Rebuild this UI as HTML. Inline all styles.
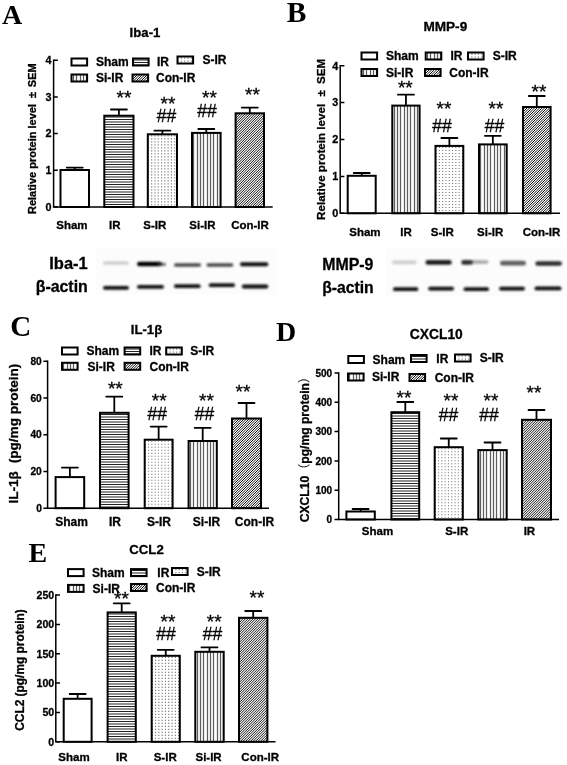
<!DOCTYPE html>
<html lang="en"><head><meta charset="utf-8"><title>Figure</title>
<style>
html,body{margin:0;padding:0;background:#fff}
body{width:567px;height:765px;overflow:hidden}
svg{display:block}
.fs{font-family:'Liberation Sans','Noto Sans CJK SC',sans-serif;stroke:#000;stroke-width:0.3px}
.fr{font-family:'Liberation Serif',serif}
</style></head><body>
<svg width="567" height="765" viewBox="0 0 567 765">
<defs>
<filter id="bl" x="-20%" y="-200%" width="140%" height="500%"><feGaussianBlur stdDeviation="1.2 0.8"/></filter>
<filter id="soft" x="0" y="0" width="100%" height="100%"><feGaussianBlur stdDeviation="0.45"/></filter>
</defs>
<rect width="567" height="765" fill="#fff"/>
<g filter="url(#soft)">
<path d="M74.75 169V167.6M66.75 167.6H82.75" stroke="#000" stroke-width="1.8" stroke-linecap="round" fill="none"/>
<rect x="60.5" y="170" width="28.5" height="37" fill="#fff"/>
<rect x="60.5" y="170" width="28.5" height="37" fill="none" stroke="#000" stroke-width="2.0"/>
<path d="M118.9 114.7V109.5M110.9 109.5H126.9" stroke="#000" stroke-width="1.8" stroke-linecap="round" fill="none"/>
<rect x="104.3" y="115.7" width="29.2" height="91.3" fill="#fff"/>
<clipPath id="c1"><rect x="104.3" y="115.7" width="29.2" height="91.3"/></clipPath>
<path clip-path="url(#c1)" d="M104.3 117H133.5M104.3 119.5H133.5M104.3 122H133.5M104.3 124.5H133.5M104.3 127H133.5M104.3 129.5H133.5M104.3 132H133.5M104.3 134.5H133.5M104.3 137H133.5M104.3 139.5H133.5M104.3 142H133.5M104.3 144.5H133.5M104.3 147H133.5M104.3 149.5H133.5M104.3 152H133.5M104.3 154.5H133.5M104.3 157H133.5M104.3 159.5H133.5M104.3 162H133.5M104.3 164.5H133.5M104.3 167H133.5M104.3 169.5H133.5M104.3 172H133.5M104.3 174.5H133.5M104.3 177H133.5M104.3 179.5H133.5M104.3 182H133.5M104.3 184.5H133.5M104.3 187H133.5M104.3 189.5H133.5M104.3 192H133.5M104.3 194.5H133.5M104.3 197H133.5M104.3 199.5H133.5M104.3 202H133.5M104.3 204.5H133.5" stroke="#222" stroke-width="1.0" fill="none"/>
<rect x="104.3" y="115.7" width="29.2" height="91.3" fill="none" stroke="#000" stroke-width="2.0"/>
<path d="M162.4 133.3V130.7M154.4 130.7H170.4" stroke="#000" stroke-width="1.8" stroke-linecap="round" fill="none"/>
<rect x="147.8" y="134.3" width="29.2" height="72.7" fill="#fff"/>
<clipPath id="c2"><rect x="147.8" y="134.3" width="29.2" height="72.7"/></clipPath>
<path clip-path="url(#c2)" d="M147.8 135.9H177M147.8 138.9H177M147.8 141.9H177M147.8 144.9H177M147.8 147.9H177M147.8 150.9H177M147.8 153.9H177M147.8 156.9H177M147.8 159.9H177M147.8 162.9H177M147.8 165.9H177M147.8 168.9H177M147.8 171.9H177M147.8 174.9H177M147.8 177.9H177M147.8 180.9H177M147.8 183.9H177M147.8 186.9H177M147.8 189.9H177M147.8 192.9H177M147.8 195.9H177M147.8 198.9H177M147.8 201.9H177M147.8 204.9H177" stroke="#7a7a7a" stroke-width="1.1" stroke-dasharray="1.1 2.2" fill="none"/>
<rect x="147.8" y="134.3" width="29.2" height="72.7" fill="none" stroke="#000" stroke-width="2.0"/>
<path d="M206.3 131.9V129M198.3 129H214.3" stroke="#000" stroke-width="1.8" stroke-linecap="round" fill="none"/>
<rect x="192" y="132.9" width="28.6" height="74.1" fill="#fff"/>
<clipPath id="c3"><rect x="192" y="132.9" width="28.6" height="74.1"/></clipPath>
<path clip-path="url(#c3)" d="M193.5 132.9V207M197.5 132.9V207M200.5 132.9V207M203.5 132.9V207M207.5 132.9V207M210.5 132.9V207M213.5 132.9V207M217.5 132.9V207M220.5 132.9V207" stroke="#5c5c5c" stroke-width="1.25" fill="none"/>
<rect x="192" y="132.9" width="28.6" height="74.1" fill="none" stroke="#000" stroke-width="2.0"/>
<path d="M249.8 112.3V107.6M241.8 107.6H257.8" stroke="#000" stroke-width="1.8" stroke-linecap="round" fill="none"/>
<rect x="235.6" y="113.3" width="28.4" height="93.7" fill="#fff"/>
<clipPath id="c4"><rect x="235.6" y="113.3" width="28.4" height="93.7"/></clipPath>
<path clip-path="url(#c4)" d="M141.9 207L235.6 113.3M144.4 207L238.1 113.3M146.9 207L240.6 113.3M149.4 207L243.1 113.3M151.9 207L245.6 113.3M154.4 207L248.1 113.3M156.9 207L250.6 113.3M159.4 207L253.1 113.3M161.9 207L255.6 113.3M164.4 207L258.1 113.3M166.9 207L260.6 113.3M169.4 207L263.1 113.3M171.9 207L265.6 113.3M174.4 207L268.1 113.3M176.9 207L270.6 113.3M179.4 207L273.1 113.3M181.91 207L275.61 113.3M184.41 207L278.11 113.3M186.91 207L280.61 113.3M189.41 207L283.11 113.3M191.91 207L285.61 113.3M194.41 207L288.11 113.3M196.91 207L290.61 113.3M199.41 207L293.11 113.3M201.91 207L295.61 113.3M204.41 207L298.11 113.3M206.91 207L300.61 113.3M209.41 207L303.11 113.3M211.91 207L305.61 113.3M214.41 207L308.11 113.3M216.91 207L310.61 113.3M219.41 207L313.11 113.3M221.91 207L315.61 113.3M224.41 207L318.11 113.3M226.91 207L320.61 113.3M229.41 207L323.11 113.3M231.91 207L325.61 113.3M234.41 207L328.11 113.3M236.91 207L330.61 113.3M239.41 207L333.11 113.3M241.91 207L335.61 113.3M244.41 207L338.11 113.3M246.91 207L340.61 113.3M249.41 207L343.11 113.3M251.91 207L345.61 113.3M254.41 207L348.11 113.3M256.92 207L350.62 113.3M259.42 207L353.12 113.3M261.92 207L355.62 113.3" stroke="#111" stroke-width="1.0" fill="none"/>
<rect x="235.6" y="113.3" width="28.4" height="93.7" fill="none" stroke="#000" stroke-width="2.0"/>
<path d="M53.6 59.45V207H272.7" stroke="#000" stroke-width="1.5" fill="none"/>
<path d="M53.6 207H57.8M53.6 170.3H57.8M53.6 133.6H57.8M53.6 96.9H57.8M53.6 60.2H57.8" stroke="#000" stroke-width="1.5"/>
<text class="fs" x="51.6" y="210.89" font-size="10.8" text-anchor="end" font-weight="bold">0</text>
<text class="fs" x="51.6" y="174.19" font-size="10.8" text-anchor="end" font-weight="bold">1</text>
<text class="fs" x="51.6" y="137.49" font-size="10.8" text-anchor="end" font-weight="bold">2</text>
<text class="fs" x="51.6" y="100.79" font-size="10.8" text-anchor="end" font-weight="bold">3</text>
<text class="fs" x="51.6" y="64.09" font-size="10.8" text-anchor="end" font-weight="bold">4</text>
<text class="fs" x="71.9" y="228.7" font-size="11.5" text-anchor="middle" font-weight="bold">Sham</text>
<text class="fs" x="114.7" y="228.7" font-size="11.5" text-anchor="middle" font-weight="bold">IR</text>
<text class="fs" x="154.8" y="228.7" font-size="11.5" text-anchor="middle" font-weight="bold">S-IR</text>
<text class="fs" x="202.4" y="228.7" font-size="11.5" text-anchor="middle" font-weight="bold">Si-IR</text>
<text class="fs" x="250" y="228.7" font-size="11.5" text-anchor="middle" font-weight="bold">Con-IR</text>
<text class="fs" x="36.3" y="138.7" font-size="11" text-anchor="middle" font-weight="bold" transform="rotate(-90 36.3 138.7)">Relative protein level<tspan dx="3.1"> &#177;</tspan><tspan dx="1.6"> SEM</tspan></text>
<text class="fs" x="145" y="36.5" font-size="13.2" text-anchor="middle" font-weight="bold">Iba-1</text>
<text class="fr" x="2" y="24" font-size="28" font-weight="bold">A</text>
<rect x="71.5" y="58.5" width="15.6" height="7" fill="#fff"/>
<rect x="71.5" y="58.5" width="15.6" height="7" fill="none" stroke="#000" stroke-width="2.0"/>
<text class="fs" x="96" y="66.32" font-size="12" font-weight="bold">Sham</text>
<rect x="133" y="58.5" width="15.6" height="7" fill="#fff"/>
<clipPath id="c5"><rect x="133" y="58.5" width="15.6" height="7"/></clipPath>
<path clip-path="url(#c5)" d="M133 60H148.6M133 62.5H148.6M133 65H148.6" stroke="#222" stroke-width="1.0" fill="none"/>
<rect x="133" y="58.5" width="15.6" height="7" fill="none" stroke="#000" stroke-width="2.0"/>
<text class="fs" x="157" y="66.32" font-size="12" font-weight="bold">IR</text>
<rect x="177.5" y="56.5" width="15.6" height="7" fill="#fff"/>
<clipPath id="c6"><rect x="177.5" y="56.5" width="15.6" height="7"/></clipPath>
<path clip-path="url(#c6)" d="M177.5 58.1H193.1M177.5 61.1H193.1" stroke="#7a7a7a" stroke-width="1.1" stroke-dasharray="1.1 2.2" fill="none"/>
<rect x="177.5" y="56.5" width="15.6" height="7" fill="none" stroke="#000" stroke-width="2.0"/>
<text class="fs" x="202.4" y="64.32" font-size="12" font-weight="bold">S-IR</text>
<rect x="71.5" y="74.5" width="15.6" height="7" fill="#fff"/>
<clipPath id="c7"><rect x="71.5" y="74.5" width="15.6" height="7"/></clipPath>
<path clip-path="url(#c7)" d="M73.5 74.5V81.5M76.5 74.5V81.5M80.5 74.5V81.5M83.5 74.5V81.5M86.5 74.5V81.5" stroke="#5c5c5c" stroke-width="1.25" fill="none"/>
<rect x="71.5" y="74.5" width="15.6" height="7" fill="none" stroke="#000" stroke-width="2.0"/>
<text class="fs" x="96" y="82.32" font-size="12" font-weight="bold">Si-IR</text>
<rect x="132.5" y="74.5" width="15.6" height="7" fill="#fff"/>
<clipPath id="c8"><rect x="132.5" y="74.5" width="15.6" height="7"/></clipPath>
<path clip-path="url(#c8)" d="M125.5 81.5L132.5 74.5M128 81.5L135 74.5M130.5 81.5L137.5 74.5M133 81.5L140 74.5M135.5 81.5L142.5 74.5M138 81.5L145 74.5M140.5 81.5L147.5 74.5M143 81.5L150 74.5M145.5 81.5L152.5 74.5M148 81.5L155 74.5" stroke="#111" stroke-width="1.0" fill="none"/>
<rect x="132.5" y="74.5" width="15.6" height="7" fill="none" stroke="#000" stroke-width="2.0"/>
<text class="fs" x="156" y="82.32" font-size="12" font-weight="bold">Con-IR</text>
<text class="fs" x="124" y="104" font-size="19" text-anchor="middle" stroke="#000" stroke-width="0.6">**</text>
<text class="fs" x="168" y="109.5" font-size="19" text-anchor="middle" stroke="#000" stroke-width="0.6">**</text>
<text class="fs" x="166.5" y="122" font-size="17.5" text-anchor="middle" stroke="#000" stroke-width="1.0">##</text>
<text class="fs" x="209.5" y="104" font-size="19" text-anchor="middle" stroke="#000" stroke-width="0.6">**</text>
<text class="fs" x="207" y="117" font-size="17.5" text-anchor="middle" stroke="#000" stroke-width="1.0">##</text>
<text class="fs" x="252.5" y="101" font-size="19" text-anchor="middle" stroke="#000" stroke-width="0.6">**</text>
<path d="M361.7 174.8V173M353.7 173H369.7" stroke="#000" stroke-width="1.8" stroke-linecap="round" fill="none"/>
<rect x="347.7" y="175.8" width="28" height="37.5" fill="#fff"/>
<rect x="347.7" y="175.8" width="28" height="37.5" fill="none" stroke="#000" stroke-width="2.0"/>
<path d="M405.95 104.6V94.7M397.95 94.7H413.95" stroke="#000" stroke-width="1.8" stroke-linecap="round" fill="none"/>
<rect x="392.3" y="105.6" width="27.3" height="107.7" fill="#fff"/>
<clipPath id="c9"><rect x="392.3" y="105.6" width="27.3" height="107.7"/></clipPath>
<path clip-path="url(#c9)" d="M394.5 105.6V213.3M397.5 105.6V213.3M400.5 105.6V213.3M404.5 105.6V213.3M407.5 105.6V213.3M410.5 105.6V213.3M414.5 105.6V213.3M417.5 105.6V213.3" stroke="#5c5c5c" stroke-width="1.25" fill="none"/>
<rect x="392.3" y="105.6" width="27.3" height="107.7" fill="none" stroke="#000" stroke-width="2.0"/>
<path d="M449.4 144.9V138M441.4 138H457.4" stroke="#000" stroke-width="1.8" stroke-linecap="round" fill="none"/>
<rect x="435.5" y="145.9" width="27.8" height="67.4" fill="#fff"/>
<clipPath id="c10"><rect x="435.5" y="145.9" width="27.8" height="67.4"/></clipPath>
<path clip-path="url(#c10)" d="M435.5 147.5H463.3M435.5 150.5H463.3M435.5 153.5H463.3M435.5 156.5H463.3M435.5 159.5H463.3M435.5 162.5H463.3M435.5 165.5H463.3M435.5 168.5H463.3M435.5 171.5H463.3M435.5 174.5H463.3M435.5 177.5H463.3M435.5 180.5H463.3M435.5 183.5H463.3M435.5 186.5H463.3M435.5 189.5H463.3M435.5 192.5H463.3M435.5 195.5H463.3M435.5 198.5H463.3M435.5 201.5H463.3M435.5 204.5H463.3M435.5 207.5H463.3M435.5 210.5H463.3" stroke="#7a7a7a" stroke-width="1.1" stroke-dasharray="1.1 2.2" fill="none"/>
<rect x="435.5" y="145.9" width="27.8" height="67.4" fill="none" stroke="#000" stroke-width="2.0"/>
<path d="M492.85 143.4V135.8M484.85 135.8H500.85" stroke="#000" stroke-width="1.8" stroke-linecap="round" fill="none"/>
<rect x="479" y="144.4" width="27.7" height="68.9" fill="#fff"/>
<clipPath id="c11"><rect x="479" y="144.4" width="27.7" height="68.9"/></clipPath>
<path clip-path="url(#c11)" d="M480.5 144.4V213.3M484.5 144.4V213.3M487.5 144.4V213.3M490.5 144.4V213.3M494.5 144.4V213.3M497.5 144.4V213.3M500.5 144.4V213.3M504.5 144.4V213.3" stroke="#5c5c5c" stroke-width="1.25" fill="none"/>
<rect x="479" y="144.4" width="27.7" height="68.9" fill="none" stroke="#000" stroke-width="2.0"/>
<path d="M536.8 106V96M528.8 96H544.8" stroke="#000" stroke-width="1.8" stroke-linecap="round" fill="none"/>
<rect x="523" y="107" width="27.6" height="106.3" fill="#fff"/>
<clipPath id="c12"><rect x="523" y="107" width="27.6" height="106.3"/></clipPath>
<path clip-path="url(#c12)" d="M416.7 213.3L523 107M419.2 213.3L525.5 107M421.7 213.3L528 107M424.2 213.3L530.5 107M426.7 213.3L533 107M429.2 213.3L535.5 107M431.7 213.3L538 107M434.2 213.3L540.5 107M436.7 213.3L543 107M439.2 213.3L545.5 107M441.7 213.3L548 107M444.2 213.3L550.5 107M446.7 213.3L553 107M449.2 213.3L555.5 107M451.7 213.3L558 107M454.2 213.3L560.5 107M456.71 213.3L563.01 107M459.21 213.3L565.51 107M461.71 213.3L568.01 107M464.21 213.3L570.51 107M466.71 213.3L573.01 107M469.21 213.3L575.51 107M471.71 213.3L578.01 107M474.21 213.3L580.51 107M476.71 213.3L583.01 107M479.21 213.3L585.51 107M481.71 213.3L588.01 107M484.21 213.3L590.51 107M486.71 213.3L593.01 107M489.21 213.3L595.51 107M491.71 213.3L598.01 107M494.21 213.3L600.51 107M496.71 213.3L603.01 107M499.21 213.3L605.51 107M501.71 213.3L608.01 107M504.21 213.3L610.51 107M506.71 213.3L613.01 107M509.21 213.3L615.51 107M511.71 213.3L618.01 107M514.21 213.3L620.51 107M516.71 213.3L623.01 107M519.21 213.3L625.51 107M521.71 213.3L628.01 107M524.21 213.3L630.51 107M526.71 213.3L633.01 107M529.21 213.3L635.51 107M531.72 213.3L638.02 107M534.22 213.3L640.52 107M536.72 213.3L643.02 107M539.22 213.3L645.52 107M541.72 213.3L648.02 107M544.22 213.3L650.52 107M546.72 213.3L653.02 107M549.22 213.3L655.52 107" stroke="#111" stroke-width="1.0" fill="none"/>
<rect x="523" y="107" width="27.6" height="106.3" fill="none" stroke="#000" stroke-width="2.0"/>
<path d="M340.2 64.95V213.3H560" stroke="#000" stroke-width="1.5" fill="none"/>
<path d="M340.2 213.3H344.4M340.2 176.4H344.4M340.2 139.5H344.4M340.2 102.6H344.4M340.2 65.7H344.4" stroke="#000" stroke-width="1.5"/>
<text class="fs" x="338.2" y="217.19" font-size="10.8" text-anchor="end" font-weight="bold">0</text>
<text class="fs" x="338.2" y="180.29" font-size="10.8" text-anchor="end" font-weight="bold">1</text>
<text class="fs" x="338.2" y="143.39" font-size="10.8" text-anchor="end" font-weight="bold">2</text>
<text class="fs" x="338.2" y="106.49" font-size="10.8" text-anchor="end" font-weight="bold">3</text>
<text class="fs" x="338.2" y="69.59" font-size="10.8" text-anchor="end" font-weight="bold">4</text>
<text class="fs" x="364.9" y="236.3" font-size="11.5" text-anchor="middle" font-weight="bold">Sham</text>
<text class="fs" x="406" y="236.3" font-size="11.5" text-anchor="middle" font-weight="bold">IR</text>
<text class="fs" x="442.3" y="236.3" font-size="11.5" text-anchor="middle" font-weight="bold">S-IR</text>
<text class="fs" x="490.2" y="236.3" font-size="11.5" text-anchor="middle" font-weight="bold">Si-IR</text>
<text class="fs" x="541.5" y="236.3" font-size="11.5" text-anchor="middle" font-weight="bold">Con-IR</text>
<text class="fs" x="325.2" y="139.4" font-size="11.6" text-anchor="middle" font-weight="bold" transform="rotate(-90 325.2 139.4)">Relative protein level<tspan dx="4.2"> &#177;</tspan><tspan dx="2.8"> SEM</tspan></text>
<text class="fs" x="445.3" y="31" font-size="13.6" text-anchor="middle" font-weight="bold">MMP-9</text>
<text class="fr" x="286.8" y="21.8" font-size="29.5" font-weight="bold">B</text>
<rect x="361.5" y="52.5" width="15.6" height="7" fill="#fff"/>
<rect x="361.5" y="52.5" width="15.6" height="7" fill="none" stroke="#000" stroke-width="2.0"/>
<text class="fs" x="386" y="60.32" font-size="12" font-weight="bold">Sham</text>
<rect x="425.7" y="52.5" width="15.6" height="7" fill="#fff"/>
<clipPath id="c13"><rect x="425.7" y="52.5" width="15.6" height="7"/></clipPath>
<path clip-path="url(#c13)" d="M427.5 52.5V59.5M430.5 52.5V59.5M434.5 52.5V59.5M437.5 52.5V59.5M440.5 52.5V59.5" stroke="#5c5c5c" stroke-width="1.25" fill="none"/>
<rect x="425.7" y="52.5" width="15.6" height="7" fill="none" stroke="#000" stroke-width="2.0"/>
<text class="fs" x="450.4" y="60.32" font-size="12" font-weight="bold">IR</text>
<rect x="468" y="52.5" width="15.6" height="7" fill="#fff"/>
<clipPath id="c14"><rect x="468" y="52.5" width="15.6" height="7"/></clipPath>
<path clip-path="url(#c14)" d="M468 54.1H483.6M468 57.1H483.6" stroke="#7a7a7a" stroke-width="1.1" stroke-dasharray="1.1 2.2" fill="none"/>
<rect x="468" y="52.5" width="15.6" height="7" fill="none" stroke="#000" stroke-width="2.0"/>
<text class="fs" x="492.7" y="60.32" font-size="12" font-weight="bold">S-IR</text>
<rect x="361.5" y="69" width="15.6" height="7" fill="#fff"/>
<clipPath id="c15"><rect x="361.5" y="69" width="15.6" height="7"/></clipPath>
<path clip-path="url(#c15)" d="M363.5 69V76M366.5 69V76M370.5 69V76M373.5 69V76M376.5 69V76" stroke="#5c5c5c" stroke-width="1.25" fill="none"/>
<rect x="361.5" y="69" width="15.6" height="7" fill="none" stroke="#000" stroke-width="2.0"/>
<text class="fs" x="386" y="76.82" font-size="12" font-weight="bold">Si-IR</text>
<rect x="425" y="69" width="15.6" height="7" fill="#fff"/>
<clipPath id="c16"><rect x="425" y="69" width="15.6" height="7"/></clipPath>
<path clip-path="url(#c16)" d="M418 76L425 69M420.5 76L427.5 69M423 76L430 69M425.5 76L432.5 69M428 76L435 69M430.5 76L437.5 69M433 76L440 69M435.5 76L442.5 69M438 76L445 69M440.5 76L447.5 69" stroke="#111" stroke-width="1.0" fill="none"/>
<rect x="425" y="69" width="15.6" height="7" fill="none" stroke="#000" stroke-width="2.0"/>
<text class="fs" x="449.3" y="76.82" font-size="12" font-weight="bold">Con-IR</text>
<text class="fs" x="405.3" y="93.5" font-size="19" text-anchor="middle" stroke="#000" stroke-width="0.6">**</text>
<text class="fs" x="444" y="115" font-size="19" text-anchor="middle" stroke="#000" stroke-width="0.6">**</text>
<text class="fs" x="442" y="132" font-size="17.5" text-anchor="middle" stroke="#000" stroke-width="1.0">##</text>
<text class="fs" x="496" y="115" font-size="19" text-anchor="middle" stroke="#000" stroke-width="0.6">**</text>
<text class="fs" x="494.5" y="132" font-size="17.5" text-anchor="middle" stroke="#000" stroke-width="1.0">##</text>
<text class="fs" x="539" y="98" font-size="19" text-anchor="middle" stroke="#000" stroke-width="0.6">**</text>
<path d="M69.9 476.1V467.6M61.9 467.6H77.9" stroke="#000" stroke-width="1.8" stroke-linecap="round" fill="none"/>
<rect x="55.6" y="477.1" width="28.6" height="31.1" fill="#fff"/>
<rect x="55.6" y="477.1" width="28.6" height="31.1" fill="none" stroke="#000" stroke-width="2.0"/>
<path d="M114.3 411.8V396.7M106.3 396.7H122.3" stroke="#000" stroke-width="1.8" stroke-linecap="round" fill="none"/>
<rect x="100" y="412.8" width="28.6" height="95.4" fill="#fff"/>
<clipPath id="c17"><rect x="100" y="412.8" width="28.6" height="95.4"/></clipPath>
<path clip-path="url(#c17)" d="M100 414.5H128.6M100 417H128.6M100 419.5H128.6M100 422H128.6M100 424.5H128.6M100 427H128.6M100 429.5H128.6M100 432H128.6M100 434.5H128.6M100 437H128.6M100 439.5H128.6M100 442H128.6M100 444.5H128.6M100 447H128.6M100 449.5H128.6M100 452H128.6M100 454.5H128.6M100 457H128.6M100 459.5H128.6M100 462H128.6M100 464.5H128.6M100 467H128.6M100 469.5H128.6M100 472H128.6M100 474.5H128.6M100 477H128.6M100 479.5H128.6M100 482H128.6M100 484.5H128.6M100 487H128.6M100 489.5H128.6M100 492H128.6M100 494.5H128.6M100 497H128.6M100 499.5H128.6M100 502H128.6M100 504.5H128.6M100 507H128.6" stroke="#222" stroke-width="1.0" fill="none"/>
<rect x="100" y="412.8" width="28.6" height="95.4" fill="none" stroke="#000" stroke-width="2.0"/>
<path d="M158.65 438.7V426.6M150.65 426.6H166.65" stroke="#000" stroke-width="1.8" stroke-linecap="round" fill="none"/>
<rect x="144.7" y="439.7" width="27.9" height="68.5" fill="#fff"/>
<clipPath id="c18"><rect x="144.7" y="439.7" width="27.9" height="68.5"/></clipPath>
<path clip-path="url(#c18)" d="M144.7 441.3H172.6M144.7 444.3H172.6M144.7 447.3H172.6M144.7 450.3H172.6M144.7 453.3H172.6M144.7 456.3H172.6M144.7 459.3H172.6M144.7 462.3H172.6M144.7 465.3H172.6M144.7 468.3H172.6M144.7 471.3H172.6M144.7 474.3H172.6M144.7 477.3H172.6M144.7 480.3H172.6M144.7 483.3H172.6M144.7 486.3H172.6M144.7 489.3H172.6M144.7 492.3H172.6M144.7 495.3H172.6M144.7 498.3H172.6M144.7 501.3H172.6M144.7 504.3H172.6M144.7 507.3H172.6" stroke="#7a7a7a" stroke-width="1.1" stroke-dasharray="1.1 2.2" fill="none"/>
<rect x="144.7" y="439.7" width="27.9" height="68.5" fill="none" stroke="#000" stroke-width="2.0"/>
<path d="M202.7 440V427.9M194.7 427.9H210.7" stroke="#000" stroke-width="1.8" stroke-linecap="round" fill="none"/>
<rect x="188.6" y="441" width="28.2" height="67.2" fill="#fff"/>
<clipPath id="c19"><rect x="188.6" y="441" width="28.2" height="67.2"/></clipPath>
<path clip-path="url(#c19)" d="M190.5 441V508.2M193.5 441V508.2M197.5 441V508.2M200.5 441V508.2M203.5 441V508.2M207.5 441V508.2M210.5 441V508.2M213.5 441V508.2" stroke="#5c5c5c" stroke-width="1.25" fill="none"/>
<rect x="188.6" y="441" width="28.2" height="67.2" fill="none" stroke="#000" stroke-width="2.0"/>
<path d="M246.5 417.5V403M238.5 403H254.5" stroke="#000" stroke-width="1.8" stroke-linecap="round" fill="none"/>
<rect x="232" y="418.5" width="29" height="89.7" fill="#fff"/>
<clipPath id="c20"><rect x="232" y="418.5" width="29" height="89.7"/></clipPath>
<path clip-path="url(#c20)" d="M142.3 508.2L232 418.5M144.8 508.2L234.5 418.5M147.3 508.2L237 418.5M149.8 508.2L239.5 418.5M152.3 508.2L242 418.5M154.8 508.2L244.5 418.5M157.3 508.2L247 418.5M159.8 508.2L249.5 418.5M162.3 508.2L252 418.5M164.8 508.2L254.5 418.5M167.3 508.2L257 418.5M169.8 508.2L259.5 418.5M172.3 508.2L262 418.5M174.8 508.2L264.5 418.5M177.3 508.2L267 418.5M179.8 508.2L269.5 418.5M182.31 508.2L272.01 418.5M184.81 508.2L274.51 418.5M187.31 508.2L277.01 418.5M189.81 508.2L279.51 418.5M192.31 508.2L282.01 418.5M194.81 508.2L284.51 418.5M197.31 508.2L287.01 418.5M199.81 508.2L289.51 418.5M202.31 508.2L292.01 418.5M204.81 508.2L294.51 418.5M207.31 508.2L297.01 418.5M209.81 508.2L299.51 418.5M212.31 508.2L302.01 418.5M214.81 508.2L304.51 418.5M217.31 508.2L307.01 418.5M219.81 508.2L309.51 418.5M222.31 508.2L312.01 418.5M224.81 508.2L314.51 418.5M227.31 508.2L317.01 418.5M229.81 508.2L319.51 418.5M232.31 508.2L322.01 418.5M234.81 508.2L324.51 418.5M237.31 508.2L327.01 418.5M239.81 508.2L329.51 418.5M242.31 508.2L332.01 418.5M244.81 508.2L334.51 418.5M247.31 508.2L337.01 418.5M249.81 508.2L339.51 418.5M252.31 508.2L342.01 418.5M254.81 508.2L344.51 418.5M257.32 508.2L347.02 418.5M259.82 508.2L349.52 418.5" stroke="#111" stroke-width="1.0" fill="none"/>
<rect x="232" y="418.5" width="29" height="89.7" fill="none" stroke="#000" stroke-width="2.0"/>
<path d="M47.6 360.45V508.2H269" stroke="#000" stroke-width="1.5" fill="none"/>
<path d="M47.6 508.2H43.4M47.6 471.45H43.4M47.6 434.7H43.4M47.6 397.95H43.4M47.6 361.2H43.4" stroke="#000" stroke-width="1.5"/>
<text class="fs" x="41.8" y="511.87" font-size="10.2" text-anchor="end" font-weight="bold">0</text>
<text class="fs" x="41.8" y="475.12" font-size="10.2" text-anchor="end" font-weight="bold">20</text>
<text class="fs" x="41.8" y="438.37" font-size="10.2" text-anchor="end" font-weight="bold">40</text>
<text class="fs" x="41.8" y="401.62" font-size="10.2" text-anchor="end" font-weight="bold">60</text>
<text class="fs" x="41.8" y="364.87" font-size="10.2" text-anchor="end" font-weight="bold">80</text>
<text class="fs" x="71.5" y="525.6" font-size="12" text-anchor="middle" font-weight="bold">Sham</text>
<text class="fs" x="115" y="525.6" font-size="12" text-anchor="middle" font-weight="bold">IR</text>
<text class="fs" x="159" y="525.6" font-size="12" text-anchor="middle" font-weight="bold">S-IR</text>
<text class="fs" x="206.5" y="525.6" font-size="12" text-anchor="middle" font-weight="bold">Si-IR</text>
<text class="fs" x="254.5" y="525.6" font-size="12" text-anchor="middle" font-weight="bold">Con-IR</text>
<text class="fs" x="18.2" y="433.6" font-size="13.6" text-anchor="middle" font-weight="bold" transform="rotate(-90 18.2 433.6)">IL-1&#946;<tspan dx="4"> (pg/mg protein)</tspan></text>
<text class="fs" x="146.5" y="334" font-size="13.2" text-anchor="middle" font-weight="bold">IL-1&#946;</text>
<text class="fr" x="10.3" y="335.6" font-size="29" font-weight="bold">C</text>
<rect x="62" y="347.5" width="15.6" height="7" fill="#fff"/>
<rect x="62" y="347.5" width="15.6" height="7" fill="none" stroke="#000" stroke-width="2.0"/>
<text class="fs" x="86.5" y="355.32" font-size="12" font-weight="bold">Sham</text>
<rect x="124.6" y="347.5" width="15.6" height="7" fill="#fff"/>
<clipPath id="c21"><rect x="124.6" y="347.5" width="15.6" height="7"/></clipPath>
<path clip-path="url(#c21)" d="M124.6 349H140.2M124.6 351.5H140.2M124.6 354H140.2" stroke="#222" stroke-width="1.0" fill="none"/>
<rect x="124.6" y="347.5" width="15.6" height="7" fill="none" stroke="#000" stroke-width="2.0"/>
<text class="fs" x="149.5" y="355.32" font-size="12" font-weight="bold">IR</text>
<rect x="166.2" y="347.5" width="15.6" height="7" fill="#fff"/>
<clipPath id="c22"><rect x="166.2" y="347.5" width="15.6" height="7"/></clipPath>
<path clip-path="url(#c22)" d="M166.2 349.1H181.8M166.2 352.1H181.8" stroke="#7a7a7a" stroke-width="1.1" stroke-dasharray="1.1 2.2" fill="none"/>
<rect x="166.2" y="347.5" width="15.6" height="7" fill="none" stroke="#000" stroke-width="2.0"/>
<text class="fs" x="190.2" y="355.32" font-size="12" font-weight="bold">S-IR</text>
<rect x="62" y="362.8" width="15.6" height="7" fill="#fff"/>
<clipPath id="c23"><rect x="62" y="362.8" width="15.6" height="7"/></clipPath>
<path clip-path="url(#c23)" d="M63.5 362.8V369.8M67.5 362.8V369.8M70.5 362.8V369.8M73.5 362.8V369.8M77.5 362.8V369.8" stroke="#5c5c5c" stroke-width="1.25" fill="none"/>
<rect x="62" y="362.8" width="15.6" height="7" fill="none" stroke="#000" stroke-width="2.0"/>
<text class="fs" x="87.5" y="370.62" font-size="12" font-weight="bold">Si-IR</text>
<rect x="124.6" y="362.8" width="15.6" height="7" fill="#fff"/>
<clipPath id="c24"><rect x="124.6" y="362.8" width="15.6" height="7"/></clipPath>
<path clip-path="url(#c24)" d="M117.6 369.8L124.6 362.8M120.1 369.8L127.1 362.8M122.6 369.8L129.6 362.8M125.1 369.8L132.1 362.8M127.6 369.8L134.6 362.8M130.1 369.8L137.1 362.8M132.6 369.8L139.6 362.8M135.1 369.8L142.1 362.8M137.6 369.8L144.6 362.8M140.1 369.8L147.1 362.8" stroke="#111" stroke-width="1.0" fill="none"/>
<rect x="124.6" y="362.8" width="15.6" height="7" fill="none" stroke="#000" stroke-width="2.0"/>
<text class="fs" x="149.5" y="370.62" font-size="12" font-weight="bold">Con-IR</text>
<text class="fs" x="115.3" y="395" font-size="19" text-anchor="middle" stroke="#000" stroke-width="0.6">**</text>
<text class="fs" x="159.2" y="407" font-size="19" text-anchor="middle" stroke="#000" stroke-width="0.6">**</text>
<text class="fs" x="157.3" y="420" font-size="17.5" text-anchor="middle" stroke="#000" stroke-width="1.0">##</text>
<text class="fs" x="206.5" y="407" font-size="19" text-anchor="middle" stroke="#000" stroke-width="0.6">**</text>
<text class="fs" x="204.6" y="420" font-size="17.5" text-anchor="middle" stroke="#000" stroke-width="1.0">##</text>
<text class="fs" x="243" y="398" font-size="19" text-anchor="middle" stroke="#000" stroke-width="0.6">**</text>
<path d="M360.6 510.5V509M352.6 509H368.6" stroke="#000" stroke-width="1.8" stroke-linecap="round" fill="none"/>
<rect x="346.4" y="511.5" width="28.4" height="8" fill="#fff"/>
<rect x="346.4" y="511.5" width="28.4" height="8" fill="none" stroke="#000" stroke-width="2.0"/>
<path d="M405.3 411.2V402M397.3 402H413.3" stroke="#000" stroke-width="1.8" stroke-linecap="round" fill="none"/>
<rect x="391.4" y="412.2" width="27.8" height="107.3" fill="#fff"/>
<clipPath id="c25"><rect x="391.4" y="412.2" width="27.8" height="107.3"/></clipPath>
<path clip-path="url(#c25)" d="M391.4 413.5H419.2M391.4 416H419.2M391.4 418.5H419.2M391.4 421H419.2M391.4 423.5H419.2M391.4 426H419.2M391.4 428.5H419.2M391.4 431H419.2M391.4 433.5H419.2M391.4 436H419.2M391.4 438.5H419.2M391.4 441H419.2M391.4 443.5H419.2M391.4 446H419.2M391.4 448.5H419.2M391.4 451H419.2M391.4 453.5H419.2M391.4 456H419.2M391.4 458.5H419.2M391.4 461H419.2M391.4 463.5H419.2M391.4 466H419.2M391.4 468.5H419.2M391.4 471H419.2M391.4 473.5H419.2M391.4 476H419.2M391.4 478.5H419.2M391.4 481H419.2M391.4 483.5H419.2M391.4 486H419.2M391.4 488.5H419.2M391.4 491H419.2M391.4 493.5H419.2M391.4 496H419.2M391.4 498.5H419.2M391.4 501H419.2M391.4 503.5H419.2M391.4 506H419.2M391.4 508.5H419.2M391.4 511H419.2M391.4 513.5H419.2M391.4 516H419.2M391.4 518.5H419.2" stroke="#222" stroke-width="1.0" fill="none"/>
<rect x="391.4" y="412.2" width="27.8" height="107.3" fill="none" stroke="#000" stroke-width="2.0"/>
<path d="M448.75 446.2V438.5M440.75 438.5H456.75" stroke="#000" stroke-width="1.8" stroke-linecap="round" fill="none"/>
<rect x="434.7" y="447.2" width="28.1" height="72.3" fill="#fff"/>
<clipPath id="c26"><rect x="434.7" y="447.2" width="28.1" height="72.3"/></clipPath>
<path clip-path="url(#c26)" d="M434.7 448.8H462.8M434.7 451.8H462.8M434.7 454.8H462.8M434.7 457.8H462.8M434.7 460.8H462.8M434.7 463.8H462.8M434.7 466.8H462.8M434.7 469.8H462.8M434.7 472.8H462.8M434.7 475.8H462.8M434.7 478.8H462.8M434.7 481.8H462.8M434.7 484.8H462.8M434.7 487.8H462.8M434.7 490.8H462.8M434.7 493.8H462.8M434.7 496.8H462.8M434.7 499.8H462.8M434.7 502.8H462.8M434.7 505.8H462.8M434.7 508.8H462.8M434.7 511.8H462.8M434.7 514.8H462.8M434.7 517.8H462.8" stroke="#7a7a7a" stroke-width="1.1" stroke-dasharray="1.1 2.2" fill="none"/>
<rect x="434.7" y="447.2" width="28.1" height="72.3" fill="none" stroke="#000" stroke-width="2.0"/>
<path d="M492.5 449.1V442.5M484.5 442.5H500.5" stroke="#000" stroke-width="1.8" stroke-linecap="round" fill="none"/>
<rect x="478.3" y="450.1" width="28.4" height="69.4" fill="#fff"/>
<clipPath id="c27"><rect x="478.3" y="450.1" width="28.4" height="69.4"/></clipPath>
<path clip-path="url(#c27)" d="M480.5 450.1V519.5M483.5 450.1V519.5M486.5 450.1V519.5M490.5 450.1V519.5M493.5 450.1V519.5M496.5 450.1V519.5M500.5 450.1V519.5M503.5 450.1V519.5M506.5 450.1V519.5" stroke="#5c5c5c" stroke-width="1.25" fill="none"/>
<rect x="478.3" y="450.1" width="28.4" height="69.4" fill="none" stroke="#000" stroke-width="2.0"/>
<path d="M536.5 418.8V410M528.5 410H544.5" stroke="#000" stroke-width="1.8" stroke-linecap="round" fill="none"/>
<rect x="522" y="419.8" width="29" height="99.7" fill="#fff"/>
<clipPath id="c28"><rect x="522" y="419.8" width="29" height="99.7"/></clipPath>
<path clip-path="url(#c28)" d="M422.3 519.5L522 419.8M424.8 519.5L524.5 419.8M427.3 519.5L527 419.8M429.8 519.5L529.5 419.8M432.3 519.5L532 419.8M434.8 519.5L534.5 419.8M437.3 519.5L537 419.8M439.8 519.5L539.5 419.8M442.3 519.5L542 419.8M444.8 519.5L544.5 419.8M447.3 519.5L547 419.8M449.8 519.5L549.5 419.8M452.3 519.5L552 419.8M454.8 519.5L554.5 419.8M457.3 519.5L557 419.8M459.8 519.5L559.5 419.8M462.31 519.5L562.01 419.8M464.81 519.5L564.51 419.8M467.31 519.5L567.01 419.8M469.81 519.5L569.51 419.8M472.31 519.5L572.01 419.8M474.81 519.5L574.51 419.8M477.31 519.5L577.01 419.8M479.81 519.5L579.51 419.8M482.31 519.5L582.01 419.8M484.81 519.5L584.51 419.8M487.31 519.5L587.01 419.8M489.81 519.5L589.51 419.8M492.31 519.5L592.01 419.8M494.81 519.5L594.51 419.8M497.31 519.5L597.01 419.8M499.81 519.5L599.51 419.8M502.31 519.5L602.01 419.8M504.81 519.5L604.51 419.8M507.31 519.5L607.01 419.8M509.81 519.5L609.51 419.8M512.31 519.5L612.01 419.8M514.81 519.5L614.51 419.8M517.31 519.5L617.01 419.8M519.81 519.5L619.51 419.8M522.31 519.5L622.01 419.8M524.81 519.5L624.51 419.8M527.31 519.5L627.01 419.8M529.81 519.5L629.51 419.8M532.31 519.5L632.01 419.8M534.81 519.5L634.51 419.8M537.32 519.5L637.02 419.8M539.82 519.5L639.52 419.8M542.32 519.5L642.02 419.8M544.82 519.5L644.52 419.8M547.32 519.5L647.02 419.8M549.82 519.5L649.52 419.8" stroke="#111" stroke-width="1.0" fill="none"/>
<rect x="522" y="419.8" width="29" height="99.7" fill="none" stroke="#000" stroke-width="2.0"/>
<path d="M338.7 372.25V519.5H559" stroke="#000" stroke-width="1.5" fill="none"/>
<path d="M338.7 519.5H334.5M338.7 490.2H334.5M338.7 460.9H334.5M338.7 431.6H334.5M338.7 402.3H334.5M338.7 373H334.5" stroke="#000" stroke-width="1.5"/>
<text class="fs" x="332.1" y="523.1" font-size="10.0" text-anchor="end" font-weight="bold">0</text>
<text class="fs" x="332.1" y="493.8" font-size="10.0" text-anchor="end" font-weight="bold">100</text>
<text class="fs" x="332.1" y="464.5" font-size="10.0" text-anchor="end" font-weight="bold">200</text>
<text class="fs" x="332.1" y="435.2" font-size="10.0" text-anchor="end" font-weight="bold">300</text>
<text class="fs" x="332.1" y="405.9" font-size="10.0" text-anchor="end" font-weight="bold">400</text>
<text class="fs" x="332.1" y="376.6" font-size="10.0" text-anchor="end" font-weight="bold">500</text>
<text class="fs" x="377.5" y="535.2" font-size="11.5" text-anchor="middle" font-weight="bold">Sham</text>
<text class="fs" x="456.7" y="535.2" font-size="11.5" text-anchor="middle" font-weight="bold">S-IR</text>
<text class="fs" x="529.4" y="535.2" font-size="11.5" text-anchor="middle" font-weight="bold">IR</text>
<text class="fs" x="309.2" y="446.6" font-size="12.1" text-anchor="middle" font-weight="bold" transform="rotate(-90 309.2 446.6)">CXCL10<tspan font-weight="normal" stroke="none">&#65288;</tspan>pg/mg protein<tspan font-weight="normal" stroke="none">&#65289;</tspan></text>
<text class="fs" x="436.3" y="338.8" font-size="13.8" text-anchor="middle" font-weight="bold">CXCL10</text>
<text class="fr" x="276" y="340.6" font-size="28" font-weight="bold">D</text>
<rect x="348.3" y="356" width="15.6" height="7" fill="#fff"/>
<rect x="348.3" y="356" width="15.6" height="7" fill="none" stroke="#000" stroke-width="2.0"/>
<text class="fs" x="372.6" y="363.82" font-size="12" font-weight="bold">Sham</text>
<rect x="411" y="355" width="15.6" height="7" fill="#fff"/>
<clipPath id="c29"><rect x="411" y="355" width="15.6" height="7"/></clipPath>
<path clip-path="url(#c29)" d="M411 356.5H426.6M411 359H426.6M411 361.5H426.6" stroke="#222" stroke-width="1.0" fill="none"/>
<rect x="411" y="355" width="15.6" height="7" fill="none" stroke="#000" stroke-width="2.0"/>
<text class="fs" x="436.3" y="362.82" font-size="12" font-weight="bold">IR</text>
<rect x="455" y="354.5" width="15.6" height="7" fill="#fff"/>
<clipPath id="c30"><rect x="455" y="354.5" width="15.6" height="7"/></clipPath>
<path clip-path="url(#c30)" d="M455 356.1H470.6M455 359.1H470.6" stroke="#7a7a7a" stroke-width="1.1" stroke-dasharray="1.1 2.2" fill="none"/>
<rect x="455" y="354.5" width="15.6" height="7" fill="none" stroke="#000" stroke-width="2.0"/>
<text class="fs" x="479.7" y="362.32" font-size="12" font-weight="bold">S-IR</text>
<rect x="348" y="373.5" width="15.6" height="7" fill="#fff"/>
<clipPath id="c31"><rect x="348" y="373.5" width="15.6" height="7"/></clipPath>
<path clip-path="url(#c31)" d="M349.5 373.5V380.5M353.5 373.5V380.5M356.5 373.5V380.5M359.5 373.5V380.5M363.5 373.5V380.5" stroke="#5c5c5c" stroke-width="1.25" fill="none"/>
<rect x="348" y="373.5" width="15.6" height="7" fill="none" stroke="#000" stroke-width="2.0"/>
<text class="fs" x="372" y="381.32" font-size="12" font-weight="bold">Si-IR</text>
<rect x="409.5" y="374" width="15.6" height="7" fill="#fff"/>
<clipPath id="c32"><rect x="409.5" y="374" width="15.6" height="7"/></clipPath>
<path clip-path="url(#c32)" d="M402.5 381L409.5 374M405 381L412 374M407.5 381L414.5 374M410 381L417 374M412.5 381L419.5 374M415 381L422 374M417.5 381L424.5 374M420 381L427 374M422.5 381L429.5 374M425 381L432 374" stroke="#111" stroke-width="1.0" fill="none"/>
<rect x="409.5" y="374" width="15.6" height="7" fill="none" stroke="#000" stroke-width="2.0"/>
<text class="fs" x="434.7" y="381.82" font-size="12" font-weight="bold">Con-IR</text>
<text class="fs" x="404" y="403.5" font-size="19" text-anchor="middle" stroke="#000" stroke-width="0.6">**</text>
<text class="fs" x="451" y="406.5" font-size="19" text-anchor="middle" stroke="#000" stroke-width="0.6">**</text>
<text class="fs" x="448.5" y="420.5" font-size="17.5" text-anchor="middle" stroke="#000" stroke-width="1.0">##</text>
<text class="fs" x="491" y="406.5" font-size="19" text-anchor="middle" stroke="#000" stroke-width="0.6">**</text>
<text class="fs" x="489" y="420.5" font-size="17.5" text-anchor="middle" stroke="#000" stroke-width="1.0">##</text>
<text class="fs" x="534" y="398.5" font-size="19" text-anchor="middle" stroke="#000" stroke-width="0.6">**</text>
<path d="M77.65 697.8V694M69.65 694H85.65" stroke="#000" stroke-width="1.8" stroke-linecap="round" fill="none"/>
<rect x="63.7" y="698.8" width="27.9" height="43" fill="#fff"/>
<rect x="63.7" y="698.8" width="27.9" height="43" fill="none" stroke="#000" stroke-width="2.0"/>
<path d="M121.7 611.4V603.3M113.7 603.3H129.7" stroke="#000" stroke-width="1.8" stroke-linecap="round" fill="none"/>
<rect x="107.6" y="612.4" width="28.2" height="129.4" fill="#fff"/>
<clipPath id="c33"><rect x="107.6" y="612.4" width="28.2" height="129.4"/></clipPath>
<path clip-path="url(#c33)" d="M107.6 614H135.8M107.6 616.5H135.8M107.6 619H135.8M107.6 621.5H135.8M107.6 624H135.8M107.6 626.5H135.8M107.6 629H135.8M107.6 631.5H135.8M107.6 634H135.8M107.6 636.5H135.8M107.6 639H135.8M107.6 641.5H135.8M107.6 644H135.8M107.6 646.5H135.8M107.6 649H135.8M107.6 651.5H135.8M107.6 654H135.8M107.6 656.5H135.8M107.6 659H135.8M107.6 661.5H135.8M107.6 664H135.8M107.6 666.5H135.8M107.6 669H135.8M107.6 671.5H135.8M107.6 674H135.8M107.6 676.5H135.8M107.6 679H135.8M107.6 681.5H135.8M107.6 684H135.8M107.6 686.5H135.8M107.6 689H135.8M107.6 691.5H135.8M107.6 694H135.8M107.6 696.5H135.8M107.6 699H135.8M107.6 701.5H135.8M107.6 704H135.8M107.6 706.5H135.8M107.6 709H135.8M107.6 711.5H135.8M107.6 714H135.8M107.6 716.5H135.8M107.6 719H135.8M107.6 721.5H135.8M107.6 724H135.8M107.6 726.5H135.8M107.6 729H135.8M107.6 731.5H135.8M107.6 734H135.8M107.6 736.5H135.8M107.6 739H135.8M107.6 741.5H135.8" stroke="#222" stroke-width="1.0" fill="none"/>
<rect x="107.6" y="612.4" width="28.2" height="129.4" fill="none" stroke="#000" stroke-width="2.0"/>
<path d="M165.75 654.8V649.8M157.75 649.8H173.75" stroke="#000" stroke-width="1.8" stroke-linecap="round" fill="none"/>
<rect x="151.7" y="655.8" width="28.1" height="86" fill="#fff"/>
<clipPath id="c34"><rect x="151.7" y="655.8" width="28.1" height="86"/></clipPath>
<path clip-path="url(#c34)" d="M151.7 657.4H179.8M151.7 660.4H179.8M151.7 663.4H179.8M151.7 666.4H179.8M151.7 669.4H179.8M151.7 672.4H179.8M151.7 675.4H179.8M151.7 678.4H179.8M151.7 681.4H179.8M151.7 684.4H179.8M151.7 687.4H179.8M151.7 690.4H179.8M151.7 693.4H179.8M151.7 696.4H179.8M151.7 699.4H179.8M151.7 702.4H179.8M151.7 705.4H179.8M151.7 708.4H179.8M151.7 711.4H179.8M151.7 714.4H179.8M151.7 717.4H179.8M151.7 720.4H179.8M151.7 723.4H179.8M151.7 726.4H179.8M151.7 729.4H179.8M151.7 732.4H179.8M151.7 735.4H179.8M151.7 738.4H179.8M151.7 741.4H179.8" stroke="#7a7a7a" stroke-width="1.1" stroke-dasharray="1.1 2.2" fill="none"/>
<rect x="151.7" y="655.8" width="28.1" height="86" fill="none" stroke="#000" stroke-width="2.0"/>
<path d="M209.5 650.8V647.4M201.5 647.4H217.5" stroke="#000" stroke-width="1.8" stroke-linecap="round" fill="none"/>
<rect x="195.3" y="651.8" width="28.4" height="90" fill="#fff"/>
<clipPath id="c35"><rect x="195.3" y="651.8" width="28.4" height="90"/></clipPath>
<path clip-path="url(#c35)" d="M197.5 651.8V741.8M200.5 651.8V741.8M203.5 651.8V741.8M207.5 651.8V741.8M210.5 651.8V741.8M213.5 651.8V741.8M217.5 651.8V741.8M220.5 651.8V741.8M223.5 651.8V741.8" stroke="#5c5c5c" stroke-width="1.25" fill="none"/>
<rect x="195.3" y="651.8" width="28.4" height="90" fill="none" stroke="#000" stroke-width="2.0"/>
<path d="M253.2 616.8V611M245.2 611H261.2" stroke="#000" stroke-width="1.8" stroke-linecap="round" fill="none"/>
<rect x="239" y="617.8" width="28.4" height="124" fill="#fff"/>
<clipPath id="c36"><rect x="239" y="617.8" width="28.4" height="124"/></clipPath>
<path clip-path="url(#c36)" d="M115 741.8L239 617.8M117.5 741.8L241.5 617.8M120 741.8L244 617.8M122.5 741.8L246.5 617.8M125 741.8L249 617.8M127.5 741.8L251.5 617.8M130 741.8L254 617.8M132.5 741.8L256.5 617.8M135 741.8L259 617.8M137.5 741.8L261.5 617.8M140 741.8L264 617.8M142.5 741.8L266.5 617.8M145 741.8L269 617.8M147.5 741.8L271.5 617.8M150 741.8L274 617.8M152.5 741.8L276.5 617.8M155.01 741.8L279.01 617.8M157.51 741.8L281.51 617.8M160.01 741.8L284.01 617.8M162.51 741.8L286.51 617.8M165.01 741.8L289.01 617.8M167.51 741.8L291.51 617.8M170.01 741.8L294.01 617.8M172.51 741.8L296.51 617.8M175.01 741.8L299.01 617.8M177.51 741.8L301.51 617.8M180.01 741.8L304.01 617.8M182.51 741.8L306.51 617.8M185.01 741.8L309.01 617.8M187.51 741.8L311.51 617.8M190.01 741.8L314.01 617.8M192.51 741.8L316.51 617.8M195.01 741.8L319.01 617.8M197.51 741.8L321.51 617.8M200.01 741.8L324.01 617.8M202.51 741.8L326.51 617.8M205.01 741.8L329.01 617.8M207.51 741.8L331.51 617.8M210.01 741.8L334.01 617.8M212.51 741.8L336.51 617.8M215.01 741.8L339.01 617.8M217.51 741.8L341.51 617.8M220.01 741.8L344.01 617.8M222.51 741.8L346.51 617.8M225.01 741.8L349.01 617.8M227.51 741.8L351.51 617.8M230.02 741.8L354.02 617.8M232.52 741.8L356.52 617.8M235.02 741.8L359.02 617.8M237.52 741.8L361.52 617.8M240.02 741.8L364.02 617.8M242.52 741.8L366.52 617.8M245.02 741.8L369.02 617.8M247.52 741.8L371.52 617.8M250.02 741.8L374.02 617.8M252.52 741.8L376.52 617.8M255.02 741.8L379.02 617.8M257.52 741.8L381.52 617.8M260.02 741.8L384.02 617.8M262.52 741.8L386.52 617.8M265.02 741.8L389.02 617.8" stroke="#111" stroke-width="1.0" fill="none"/>
<rect x="239" y="617.8" width="28.4" height="124" fill="none" stroke="#000" stroke-width="2.0"/>
<path d="M55.8 594.3V741.8H275.5" stroke="#000" stroke-width="1.5" fill="none"/>
<path d="M55.8 741.8H60M55.8 712.45H60M55.8 683.1H60M55.8 653.75H60M55.8 624.4H60M55.8 595.05H60" stroke="#000" stroke-width="1.5"/>
<text class="fs" x="54.2" y="745.62" font-size="10.6" text-anchor="end" font-weight="bold">0</text>
<text class="fs" x="54.2" y="716.27" font-size="10.6" text-anchor="end" font-weight="bold">50</text>
<text class="fs" x="54.2" y="686.92" font-size="10.6" text-anchor="end" font-weight="bold">100</text>
<text class="fs" x="54.2" y="657.57" font-size="10.6" text-anchor="end" font-weight="bold">150</text>
<text class="fs" x="54.2" y="628.22" font-size="10.6" text-anchor="end" font-weight="bold">200</text>
<text class="fs" x="54.2" y="598.87" font-size="10.6" text-anchor="end" font-weight="bold">250</text>
<text class="fs" x="74" y="760.8" font-size="11.5" text-anchor="middle" font-weight="bold">Sham</text>
<text class="fs" x="121.7" y="760.8" font-size="11.5" text-anchor="middle" font-weight="bold">IR</text>
<text class="fs" x="165.2" y="760.8" font-size="11.5" text-anchor="middle" font-weight="bold">S-IR</text>
<text class="fs" x="208.6" y="760.8" font-size="11.5" text-anchor="middle" font-weight="bold">Si-IR</text>
<text class="fs" x="260.2" y="760.8" font-size="11.5" text-anchor="middle" font-weight="bold">Con-IR</text>
<text class="fs" x="24" y="670" font-size="11.9" text-anchor="middle" font-weight="bold" transform="rotate(-90 24 670)">CCL2 (pg/mg protein)</text>
<text class="fs" x="146.5" y="553.5" font-size="13.2" text-anchor="middle" font-weight="bold">CCL2</text>
<text class="fr" x="28.4" y="562" font-size="28" font-weight="bold">E</text>
<rect x="68" y="569.1" width="15.6" height="7" fill="#fff"/>
<rect x="68" y="569.1" width="15.6" height="7" fill="none" stroke="#000" stroke-width="2.0"/>
<text class="fs" x="92" y="576.92" font-size="12" font-weight="bold">Sham</text>
<rect x="131" y="569.1" width="15.6" height="7" fill="#fff"/>
<clipPath id="c37"><rect x="131" y="569.1" width="15.6" height="7"/></clipPath>
<path clip-path="url(#c37)" d="M131 570.5H146.6M131 573H146.6M131 575.5H146.6" stroke="#222" stroke-width="1.0" fill="none"/>
<rect x="131" y="569.1" width="15.6" height="7" fill="none" stroke="#000" stroke-width="2.0"/>
<text class="fs" x="157.3" y="576.92" font-size="12" font-weight="bold">IR</text>
<rect x="172" y="568" width="15.6" height="7" fill="#fff"/>
<clipPath id="c38"><rect x="172" y="568" width="15.6" height="7"/></clipPath>
<path clip-path="url(#c38)" d="M172 569.6H187.6M172 572.6H187.6" stroke="#7a7a7a" stroke-width="1.1" stroke-dasharray="1.1 2.2" fill="none"/>
<rect x="172" y="568" width="15.6" height="7" fill="none" stroke="#000" stroke-width="2.0"/>
<text class="fs" x="196.7" y="575.82" font-size="12" font-weight="bold">S-IR</text>
<rect x="68" y="584.9" width="15.6" height="7" fill="#fff"/>
<clipPath id="c39"><rect x="68" y="584.9" width="15.6" height="7"/></clipPath>
<path clip-path="url(#c39)" d="M69.5 584.9V591.9M73.5 584.9V591.9M76.5 584.9V591.9M79.5 584.9V591.9M83.5 584.9V591.9" stroke="#5c5c5c" stroke-width="1.25" fill="none"/>
<rect x="68" y="584.9" width="15.6" height="7" fill="none" stroke="#000" stroke-width="2.0"/>
<text class="fs" x="92.6" y="592.72" font-size="12" font-weight="bold">Si-IR</text>
<rect x="131" y="584" width="15.6" height="7" fill="#fff"/>
<clipPath id="c40"><rect x="131" y="584" width="15.6" height="7"/></clipPath>
<path clip-path="url(#c40)" d="M124 591L131 584M126.5 591L133.5 584M129 591L136 584M131.5 591L138.5 584M134 591L141 584M136.5 591L143.5 584M139 591L146 584M141.5 591L148.5 584M144 591L151 584M146.5 591L153.5 584" stroke="#111" stroke-width="1.0" fill="none"/>
<rect x="131" y="584" width="15.6" height="7" fill="none" stroke="#000" stroke-width="2.0"/>
<text class="fs" x="156" y="591.82" font-size="12" font-weight="bold">Con-IR</text>
<text class="fs" x="121.5" y="604.7" font-size="19" text-anchor="middle" stroke="#000" stroke-width="0.6">**</text>
<text class="fs" x="168" y="628" font-size="19" text-anchor="middle" stroke="#000" stroke-width="0.6">**</text>
<text class="fs" x="166" y="639.5" font-size="17.5" text-anchor="middle" stroke="#000" stroke-width="1.0">##</text>
<text class="fs" x="214.2" y="628" font-size="19" text-anchor="middle" stroke="#000" stroke-width="0.6">**</text>
<text class="fs" x="212.5" y="639.5" font-size="17.5" text-anchor="middle" stroke="#000" stroke-width="1.0">##</text>
<text class="fs" x="257" y="604.3" font-size="19" text-anchor="middle" stroke="#000" stroke-width="0.6">**</text>
<rect x="96" y="248" width="180" height="46" fill="#fcfcfc"/>
<text class="fs" x="87.8" y="269.4" font-size="16.5" text-anchor="end" font-weight="bold">Iba-1</text>
<text class="fs" x="87.8" y="291.8" font-size="15.9" text-anchor="end" font-weight="bold">&#946;-actin</text>
<g filter="url(#bl)">
<rect x="103" y="261.15" width="26" height="3.7" rx="1.85" fill="#666" opacity="0.3"/>
<rect x="137" y="261.75" width="25" height="4.5" rx="2.25" fill="#000" opacity="1"/>
<rect x="158" y="262.65" width="8" height="3.3" rx="1.65" fill="#333" opacity="0.7"/>
<rect x="174" y="263.25" width="27" height="3.5" rx="1.75" fill="#2a2a2a" opacity="0.85"/>
<rect x="206.5" y="263.25" width="26.9" height="3.5" rx="1.75" fill="#2a2a2a" opacity="0.85"/>
<rect x="240" y="262.3" width="28.3" height="4" rx="2" fill="#0a0a0a" opacity="1"/>
<rect x="103" y="285.9" width="26" height="3.8" rx="1.9" fill="#0a0a0a" opacity="1"/>
<rect x="137" y="284.9" width="27" height="3.8" rx="1.9" fill="#0a0a0a" opacity="1"/>
<rect x="174" y="284.3" width="26.6" height="3.8" rx="1.9" fill="#0a0a0a" opacity="1"/>
<rect x="208.8" y="283.3" width="26.2" height="3.8" rx="1.9" fill="#0a0a0a" opacity="1"/>
<rect x="241.8" y="284.6" width="26.5" height="3.8" rx="1.9" fill="#0a0a0a" opacity="1"/>
</g>
<rect x="386" y="248" width="180" height="48" fill="#fcfcfc"/>
<text class="fs" x="322.2" y="269.9" font-size="15.9" font-weight="bold">MMP-9</text>
<text class="fs" x="322.2" y="293.2" font-size="15.7" font-weight="bold">&#946;-actin</text>
<g filter="url(#bl)">
<rect x="392" y="260.55" width="24.7" height="3.7" rx="1.85" fill="#666" opacity="0.3"/>
<rect x="425.5" y="259.95" width="26.2" height="4.9" rx="2.45" fill="#1a1a1a" opacity="1"/>
<rect x="461.2" y="260.05" width="11.8" height="4.7" rx="2.35" fill="#222" opacity="0.95"/>
<rect x="470" y="260.05" width="18.5" height="3.9" rx="1.95" fill="#555" opacity="0.45"/>
<rect x="500" y="260.85" width="26" height="4.7" rx="2.35" fill="#444" opacity="0.85"/>
<rect x="535.3" y="261.15" width="26.7" height="4.7" rx="2.35" fill="#222" opacity="0.95"/>
<rect x="393" y="287.3" width="25.3" height="3.8" rx="1.9" fill="#0a0a0a" opacity="1"/>
<rect x="428.2" y="286.7" width="25.8" height="3.8" rx="1.9" fill="#0a0a0a" opacity="1"/>
<rect x="463.6" y="287.3" width="25.4" height="3.8" rx="1.9" fill="#0a0a0a" opacity="1"/>
<rect x="499.1" y="286.7" width="25.9" height="3.8" rx="1.9" fill="#0a0a0a" opacity="1"/>
<rect x="534.5" y="286.55" width="27" height="3.7" rx="1.85" fill="#0a0a0a" opacity="1"/>
</g>
</g></svg></body></html>
